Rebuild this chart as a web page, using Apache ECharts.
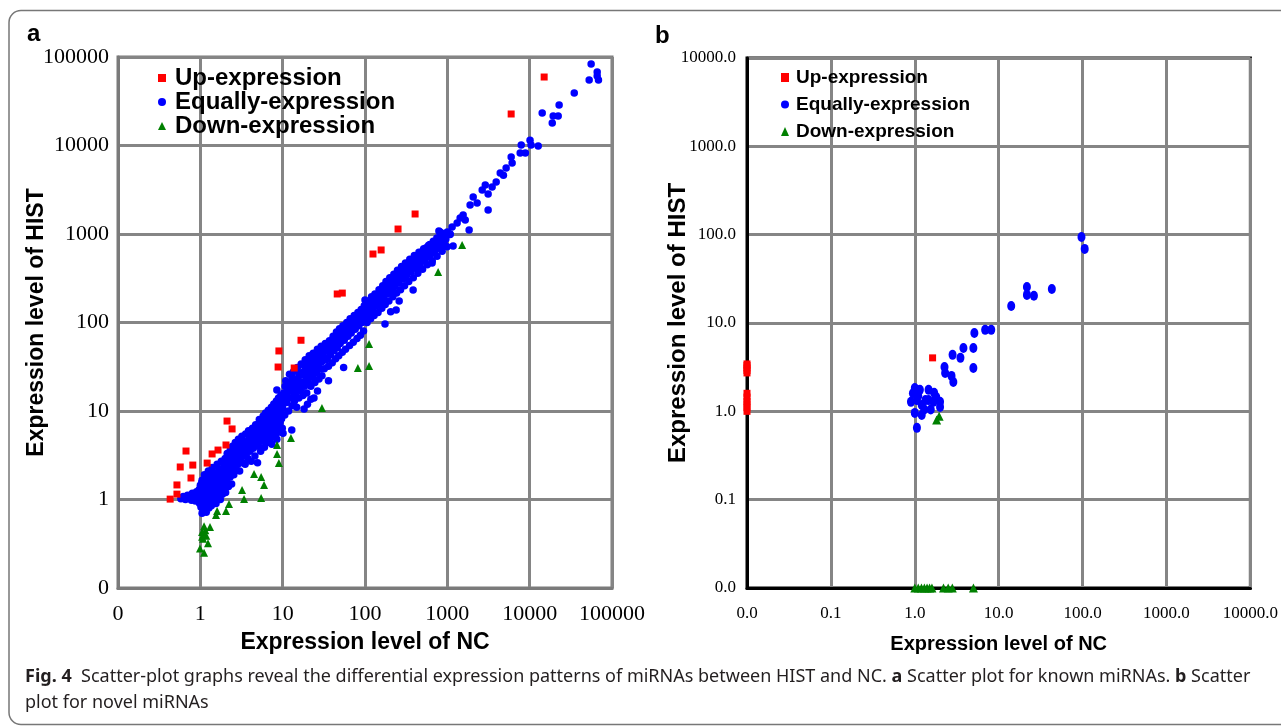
<!DOCTYPE html>
<html>
<head>
<meta charset="utf-8">
<script src="https://cdn.jsdelivr.net/npm/echarts@6/dist/echarts.min.js"></script>
<style>
html,body{margin:0;padding:0;background:#fff;}
#chart{width:1281px;height:726px;}
</style>
</head>
<body>
<div id="chart"></div>
<script>
// ---------- tick labels ----------
const ticksA = ['0','1','10','100','1000','10000','100000'];
const ticksB = ['0.0','0.1','1.0','10.0','100.0','1000.0','10000.0'];
const seriesNames = ['Up-expression','Equally-expression','Down-expression'];

// ---------- panel a : known miRNAs [NC, HIST] ----------
const upA = [
[0.43,1.01],[0.52,1.15],[0.52,1.46],[0.77,1.75],[0.57,2.33],[0.67,3.53],[0.81,2.45],
[1.21,2.58],[1.39,3.27],[1.64,3.62],[2.05,4.13],[2.11,7.7],[2.43,6.27],
[9.0,47.7],[8.8,31.4],[16.7,63],[13.8,30.6],[46,210],[53,215],
[125,594],[157,660],[252,1138],[406,1683],[5960,22700],[15000,59400]
];
const downA = [
[1513,752],[773,372],[112,57],[82,30.6],[112,32.2],[30,10.8],[12.6,4.95],
[8.55,4.13],[8.55,3.27],[9.0,2.58],[4.49,1.94],[5.47,1.79],[5.94,1.46],
[3.21,1.28],[3.4,1.01],[5.47,1.04],[2.23,0.89],[2.05,0.74],[1.6,0.74],[1.55,0.67],
[1.11,0.5],[1.31,0.49],[1.05,0.43],[1.18,0.39],[1.08,0.36],[1.24,0.32],[0.99,0.28],
[1.11,0.25],[1.05,0.38],[1.15,0.45]
];
const equalA = [
[0.58,1.02],[0.62,1.08],[0.66,1.0],[0.7,1.12],[0.74,1.04],[0.78,0.98],[0.8,1.18],[0.84,1.06],[0.87,0.96],[0.9,1.22],
[0.92,1.1],[0.95,1.0],[0.97,1.3],[0.98,0.9],
[1.0,1.0],[1.0,1.45],[1.02,0.82],[1.03,1.2],[1.05,0.7],[1.05,1.65],[1.07,0.95],[1.08,1.3],[1.1,0.78],[1.1,1.1],
[1.12,1.9],[1.13,0.88],[1.15,1.4],[1.16,1.02],[1.18,0.72],[1.2,1.2],[1.2,1.75],[1.22,0.9],[1.24,1.05],[1.25,2.1],
[1.27,0.8],[1.28,1.5],[1.3,1.15],[1.3,0.95],[1.33,1.85],[1.35,1.3],[1.36,0.85],[1.38,1.05],[1.4,2.3],[1.42,1.6],
[1.44,1.2],[1.45,0.95],[1.48,1.4],[1.5,2.0],[1.5,1.1],[1.53,1.7],[1.55,0.9],[1.57,1.3],[1.6,2.5],[1.6,1.5],
[1.63,1.05],[1.66,1.9],[1.68,1.25],[1.7,2.2],[1.72,1.6],[1.75,1.0],[1.78,1.4],[1.8,2.7],[1.82,1.8],[1.85,1.15],
[1.88,2.1],[1.9,1.5],[1.93,2.4],[1.96,1.3],[1.98,1.9],
[1.04,1.55],[1.09,1.22],[1.14,0.98],[1.19,1.5],[1.26,1.35],[1.31,1.65],[1.37,1.18],[1.43,1.45],[1.47,1.75],[1.52,1.25],
[1.58,1.8],[1.64,1.38],[1.71,1.75],[1.77,1.2],[1.84,1.6],[1.91,2.0],[1.97,1.65],
[2.0,2.9],[2.03,1.2],[2.06,2.2],[2.1,1.6],[2.12,3.3],[2.15,2.5],[2.2,1.4],[2.22,2.0],[2.25,3.0],[2.3,1.8],
[2.32,3.7],[2.36,2.6],[2.4,1.5],[2.43,2.2],[2.46,4.0],[2.5,3.0],[2.55,1.9],[2.58,2.6],[2.62,3.4],[2.66,4.4],
[2.7,2.2],[2.75,3.0],[2.8,3.8],[2.85,2.5],[2.9,4.8],[2.95,3.3],[3.0,2.1],[3.05,2.8],[3.1,4.2],[3.15,3.6],
[3.2,5.2],[3.25,2.6],[3.3,3.1],[3.38,4.5],[3.45,3.8],[3.5,2.5],[3.55,5.5],[3.6,3.3],[3.7,4.1],[3.78,2.9],
[3.85,6.0],[3.9,4.8],[4.0,3.5],[4.05,5.3],[4.15,2.7],[4.2,4.3],[4.3,6.4],[4.4,3.8],[4.5,5.0],[4.6,3.1],
[4.7,7.0],[4.8,4.4],[4.9,5.8],[4.95,2.6],
[2.08,2.6],[2.17,1.85],[2.28,2.35],[2.38,3.2],[2.48,2.45],[2.6,2.9],[2.72,2.6],[2.84,3.4],[2.97,2.7],[3.08,3.4],
[3.22,4.0],[3.35,3.6],[3.48,4.1],[3.62,4.5],[3.75,3.6],[3.88,4.3],[4.02,4.6],[4.18,5.6],[4.35,4.1],[4.55,5.6],
[4.75,5.2],[4.92,4.7],
[5.0,6.6],[5.1,4.0],[5.2,8.0],[5.3,5.2],[5.4,3.5],[5.5,6.2],[5.6,7.3],[5.7,4.6],[5.8,8.8],[5.9,5.6],
[6.0,3.9],[6.1,7.0],[6.2,9.5],[6.3,5.0],[6.4,6.4],[6.5,8.2],[6.6,4.4],[6.7,10.2],[6.8,5.8],[6.9,7.4],
[7.0,9.0],[7.1,4.9],[7.2,6.5],[7.3,11.0],[7.4,8.0],[7.5,5.5],[7.6,9.6],[7.7,7.0],[7.8,12.0],[7.9,6.0],
[8.0,8.6],[8.1,10.4],[8.2,5.3],[8.3,7.6],[8.4,13.0],[8.5,9.2],[8.6,6.6],[8.7,11.2],[8.8,8.0],[8.9,14.0],
[9.0,10.0],[9.1,5.8],[9.2,12.2],[9.3,7.4],[9.4,9.0],[9.5,15.0],[9.6,11.0],[9.7,8.2],[9.8,13.2],[9.9,6.4],
[10.0,10.8],[8.5,17.3],[8.5,4.8],[10.1,5.6],[12.9,6.1],[7.4,4.2],
[5.15,5.6],[5.35,6.8],[5.55,5.1],[5.75,6.9],[5.95,6.3],[6.15,8.1],[6.35,7.2],[6.55,6.9],[6.75,8.7],[6.95,6.2],
[7.15,7.8],[7.35,9.5],[7.55,8.5],[7.75,10.5],[7.95,9.3],[8.15,7.2],[8.35,11.5],[8.55,10.3],[8.75,9.6],[8.95,12.0],
[9.15,11.4],[9.35,8.4],[9.55,12.8],[9.75,10.5],[9.95,13.8],
[10.3,16],[10.6,9],[10.9,22],[11.2,12.5],[11.5,18],[11.8,10],[12.1,26],[12.4,14],[12.7,20],[13.0,11.5],
[13.3,16.5],[13.6,28],[13.9,13],[14.2,22],[14.5,17],[14.8,11],[15.1,31],[15.4,19],[15.7,14],[16.0,25],
[16.4,17],[16.8,34],[17.2,21],[17.6,15],[18.0,28],[18.4,19],[18.8,38],[19.2,24],[19.6,16],[20.0,31],
[20.5,21],[21.0,42],[21.5,27],[22.0,19],[22.5,35],[23.0,24],[23.5,45],[24.0,30],[24.6,21],[25.2,38],
[25.8,27],[26.4,50],[27.0,33],[27.6,23],[28.2,42],[28.8,30],[29.4,54],[30.0,36],[30.0,25],
[10.2,13],[10.7,19],[11.3,15],[11.9,21],[12.5,17],[13.1,24],[13.8,19],[14.4,15],[15.0,23],[15.8,27],
[16.5,21],[17.3,26],[18.1,33],[19.0,22],[19.9,36],[20.8,28],[21.8,32],[22.8,40],[23.8,27],[25.0,33],
[26.1,43],[27.3,36],[28.6,47],[29.9,40],
[18.2,10.5],[20,11.9],[22,13.6],[24,14],[26.5,16.8],[36,22],[55,31],
[31,45],[32,30],[33,58],[34,38],[35,48],[36,32],[37,62],[38,43],[39,54],[40,35],
[41,70],[42,48],[43,60],[44,39],[45,78],[46,52],[47,66],[48,42],[49,85],[50,58],
[52,72],[53,46],[54,92],[56,63],[57,80],[58,50],[60,100],[62,70],[63,88],[65,55],
[66,110],[68,76],[70,96],[72,60],[74,120],[76,84],[78,105],[80,66],[82,130],[84,92],
[86,115],[88,72],[90,140],[92,100],[94,125],[96,80],[98,155],[100,110],[100,180],
[31.5,38],[33.2,50],[35,40],[36.8,55],[38.7,47],[40.7,60],[42.8,55],[45,64],[47.3,58],[49.7,74],
[52.3,64],[55,82],[57.8,69],[60.8,90],[64,79],[67.3,98],[70.8,85],[74.4,107],[78.3,93],[82.3,118],
[86.6,101],[91,133],[95.7,112],
[104,135],[106,100],[108,170],[111,120],[114,150],[117,110],[120,195],[123,140],[126,175],[129,120],
[132,210],[136,155],[140,190],[144,130],[148,235],[152,170],[156,210],[160,145],[164,260],[168,190],
[172,230],[176,160],[180,290],[185,210],[190,255],[195,175],[200,320],[206,230],[212,280],[218,195],
[224,350],[230,255],[236,305],[242,215],[248,390],[255,280],[262,335],[270,235],[278,430],[286,310],
[294,370],[302,260],[310,470],[320,340],[330,405],[340,290],[350,520],[362,375],[374,445],[386,320],
[398,570],[410,410],[424,490],[438,360],[452,620],[468,450],[484,540],[500,400],[516,680],[534,500],
[552,590],[570,450],[590,740],[610,550],[632,650],[655,500],[678,800],[700,610],[725,720],[750,560],
[778,870],[806,680],[835,790],[865,640],[896,950],[928,760],[960,880],[995,720],[1000,1050],
[102,158],[107,122],[113,165],[119,140],[125,190],[131,162],[138,205],[145,160],[152,225],[160,185],
[168,245],[176,215],[185,240],[195,265],[205,300],[215,255],[226,320],[238,280],[250,350],[263,305],
[276,380],[290,340],[305,420],[320,375],[337,460],[354,410],[372,500],[391,450],[411,540],[432,480],
[454,590],[477,520],[501,640],[527,580],[554,700],[582,630],[612,760],[643,700],[676,830],[710,760],
[746,900],[784,810],[824,950],[866,880],[910,1010],[956,960],
[175,96],[205,132],[239,138],[260,175],[384,233],[653,470],
[817,1055],[1081,1000],[1143,1200],[1175,731],[1315,1330],[1430,1517],[1556,1640],[1650,1440],[1840,1110],[1890,2130],
[2060,2620],[2300,2240],[2650,3140],[2890,3580],[3130,1865],[3130,2830],[3500,3400],[3920,3870],[4390,4890],[4800,4600],
[5180,5570],[6120,6340],[5960,7410],[7670,8220],[8870,8220],[7900,10100],[10100,11500],[10400,10100],[12700,9870],
[14200,23300],[18800,17900],[19300,21500],[22200,21500],[22800,28700],[34800,39200],[52800,55000],[55800,83400],
[66100,67800],[66100,61000],[68500,55000],[1020,1025],[1080,990],[790,1080]
];

// ---------- panel b : novel miRNAs [NC, HIST] ----------
const upB = [
[0.01,1.0],[0.01,1.1],[0.01,1.2],[0.01,1.3],[0.01,1.45],[0.01,1.6],
[0.01,2.72],[0.01,2.9],[0.01,3.1],[0.01,3.3],[0.01,3.44],[1.63,4.03]
];
const equalB = [
[97,94],[106,69],[21.7,25.6],[21.7,20.8],[26.3,20.3],[43,24.3],[14.1,15.6],[5.13,7.7],[6.9,8.36],[8.15,8.36],
[3.8,5.22],[4.99,5.22],[2.82,4.36],[3.5,4.03],[4.99,3.1],[2.26,3.18],[2.3,2.72],[2.74,2.52],[2.88,2.15],
[1.0,1.84],[1.15,1.75],[0.9,1.28],[1.06,1.34],[1.21,1.18],[1.0,0.96],[1.21,0.91],[1.46,1.75],[1.7,1.62],
[1.46,1.34],[1.67,1.28],[1.55,1.05],[2.0,1.28],[2.0,1.12],[1.06,0.65],[1.34,1.34],[0.95,1.6],[1.1,1.5],
[1.3,1.05],[1.8,1.45]
];
const downB = [
[1.0,0.01],[1.1,0.01],[1.2,0.01],[1.3,0.01],[1.4,0.01],[1.5,0.01],[1.6,0.01],
[2.2,0.01],[2.5,0.01],[2.8,0.01],[5.0,0.01],[1.82,0.8],[1.95,0.88]
];

// ---------- texts ----------
const axisNameX = 'Expression level of NC';
const axisNameY = 'Expression level of HIST';
const captionLines = [
  ['Fig. 4', '  Scatter-plot graphs reveal the differential expression patterns of miRNAs between HIST and NC. ', 'a', ' Scatter plot for known miRNAs. ', 'b', ' Scatter'],
  ['plot for novel miRNAs']
];

// ---------- chart ----------
const chart = echarts.init(document.getElementById('chart'), null, {renderer: 'canvas'});
const RED = '#ff0000', BLUE = '#0000ff', GREEN = '#008000';
const GRIDGRAY = '#858585';

function fmt(ticks, minExp) {
  return function (v) {
    const i = Math.round(Math.log10(v)) - minExp;
    return ticks[i] !== undefined ? ticks[i] : '';
  };
}

function logAxis(gi, min, max, ticks, minExp, isX, opt) {
  return {
    type: 'log', logBase: 10, gridIndex: gi, min: min, max: max, splitNumber: 6,
    axisLine: {show: true, onZero: false, lineStyle: {color: opt.lineColor, width: opt.lineWidth}},
    axisTick: {show: false},
    splitLine: {show: true, lineStyle: {color: GRIDGRAY, width: 3}},
    minorSplitLine: {show: false},
    axisLabel: {
      formatter: fmt(ticks, minExp),
      fontFamily: 'Liberation Serif', fontSize: opt.labelSize, color: '#000',
      margin: isX ? opt.xMargin : opt.yMargin, showMinLabel: true, showMaxLabel: true
    },
    name: isX ? axisNameX : axisNameY,
    nameLocation: 'middle',
    nameMoveOverlap: false,
    nameGap: isX ? opt.xNameGap : opt.yNameGap,
    nameTextStyle: isX ? opt.xNameStyle : opt.yNameStyle
  };
}

const optA = {
  lineColor: '#7a7a7a', lineWidth: 3, labelSize: 22, xMargin: 15, yMargin: 9,
  xNameGap: 43, yNameGap: 70,
  xNameStyle: {fontFamily: 'Liberation Sans', fontWeight: 'bold', fontSize: 23, color: '#000'},
  yNameStyle: {fontFamily: 'Liberation Sans', fontWeight: 'bold', fontSize: 23, color: '#000'}
};
const optB = {
  lineColor: '#000', lineWidth: 3, labelSize: 17, xMargin: 17, yMargin: 11,
  xNameGap: 46, yNameGap: 57,
  xNameStyle: {fontFamily: 'Liberation Sans', fontWeight: 'bold', fontSize: 20, color: '#000'},
  yNameStyle: {fontFamily: 'Liberation Sans', fontWeight: 'bold', fontSize: 24, color: '#000'}
};

function legendData() {
  return [
    {name: seriesNames[0], icon: 'rect'},
    {name: seriesNames[1], icon: 'circle'},
    {name: seriesNames[2], icon: 'triangle'}
  ];
}

const richCap = {
  n: {fontFamily: 'Noto Sans', fontSize: 18, color: '#231f20'},
  b: {fontFamily: 'Noto Sans', fontSize: 18, fontWeight: 'bold', color: '#231f20'}
};
const capText = captionLines.map(function (line) {
  return line.map(function (seg) {
    const bold = (seg === 'Fig. 4' || seg === 'a' || seg === 'b');
    return '{' + (bold ? 'b' : 'n') + '|' + seg + '}';
  }).join('');
}).join('\n');

const option = {
  backgroundColor: '#fff',
  animation: false,
  grid: [
    {left: 118, top: 57, width: 494, height: 531, show: true, borderColor: '#7a7a7a', borderWidth: 3, backgroundColor: 'transparent'},
    {left: 747, top: 58, width: 507, height: 530, show: true, borderColor: '#000', borderWidth: 3, backgroundColor: 'transparent'}
  ],
  xAxis: [
    logAxis(0, 0.1, 100000, ticksA, -1, true, optA),
    logAxis(1, 0.01, 10000, ticksB, -2, true, optB)
  ],
  yAxis: [
    logAxis(0, 0.1, 100000, ticksA, -1, false, optA),
    logAxis(1, 0.01, 10000, ticksB, -2, false, optB)
  ],
  legend: [
    {
      orient: 'vertical', left: 158, top: 66, padding: 0, itemGap: 0,
      itemWidth: 8, itemHeight: 8, selectedMode: false,
      data: legendData(),
      textStyle: {fontFamily: 'Liberation Sans', fontWeight: 'bold', fontSize: 24, color: '#000', padding: [0, 0, 0, 4]}
    },
    {
      orient: 'vertical', left: 781, top: 68, padding: 0, itemGap: 8,
      itemWidth: 8, itemHeight: 9, selectedMode: false,
      data: legendData(),
      textStyle: {fontFamily: 'Liberation Sans', fontWeight: 'bold', fontSize: 19, color: '#000', padding: [0, 0, 0, 2]}
    }
  ],
  series: [
    {name: seriesNames[1], type: 'scatter', xAxisIndex: 0, yAxisIndex: 0, data: equalA, symbol: 'circle', symbolSize: 7.5, itemStyle: {color: BLUE, opacity: 1}, clip: false},
    {name: seriesNames[0], type: 'scatter', xAxisIndex: 0, yAxisIndex: 0, data: upA, symbol: 'rect', symbolSize: 7, itemStyle: {color: RED, opacity: 1}, clip: false},
    {name: seriesNames[2], type: 'scatter', xAxisIndex: 0, yAxisIndex: 0, data: downA, symbol: 'triangle', symbolSize: 8, itemStyle: {color: GREEN, opacity: 1}, clip: false},
    {name: seriesNames[1], type: 'scatter', xAxisIndex: 1, yAxisIndex: 1, data: equalB, symbol: 'circle', symbolSize: [8, 10], itemStyle: {color: BLUE, opacity: 1}, clip: false},
    {name: seriesNames[0], type: 'scatter', xAxisIndex: 1, yAxisIndex: 1, data: upB, symbol: 'rect', symbolSize: 7, itemStyle: {color: RED, opacity: 1}, clip: false},
    {name: seriesNames[2], type: 'scatter', xAxisIndex: 1, yAxisIndex: 1, data: downB, symbol: 'triangle', symbolSize: 9, itemStyle: {color: GREEN, opacity: 1}, clip: false}
  ],
  graphic: [
    {type: 'rect', shape: {x: 9, y: 10.5, width: 1300, height: 714, r: 12}, style: {fill: 'none', stroke: '#777', lineWidth: 1.5}, silent: true, z: -1},
    {type: 'text', left: 27, top: 22, style: {text: 'a', fontFamily: 'Liberation Sans', fontWeight: 'bold', fontSize: 24, fill: '#000'}},
    {type: 'text', left: 655, top: 24, style: {text: 'b', fontFamily: 'Liberation Sans', fontWeight: 'bold', fontSize: 24, fill: '#000'}},
    {type: 'text', left: 25, top: 664, style: {text: capText, rich: richCap, lineHeight: 26, fontFamily: 'Noto Sans', fontSize: 18, fill: '#231f20'}}
  ]
};
chart.setOption(option);
</script>
</body>
</html>
